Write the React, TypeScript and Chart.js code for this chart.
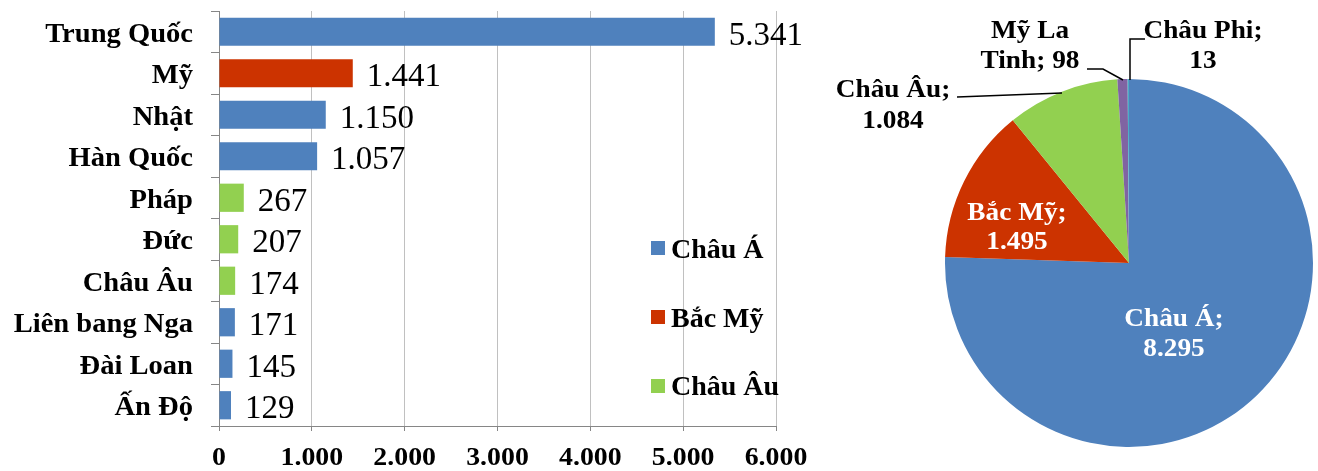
import React, { useEffect, useRef } from "react";
import { Chart, registerables } from "chart.js";

Chart.register(...registerables);

// Bar chart: country values, grouped by region colour
const countries = [
  "Trung Quốc",
  "Mỹ",
  "Nhật",
  "Hàn Quốc",
  "Pháp",
  "Đức",
  "Châu Âu",
  "Liên bang Nga",
  "Đài Loan",
  "Ấn Độ",
];
const countryRegion = [
  "Châu Á",
  "Bắc Mỹ",
  "Châu Á",
  "Châu Á",
  "Châu Âu",
  "Châu Âu",
  "Châu Âu",
  "Châu Á",
  "Châu Á",
  "Châu Á",
];
const countryValues = [5341, 1441, 1150, 1057, 267, 207, 174, 171, 145, 129];
const barRegions = ["Châu Á", "Bắc Mỹ", "Châu Âu"];
const xTickValues = [0, 1000, 2000, 3000, 4000, 5000, 6000];

// Pie chart: totals per region
const pieLabels = ["Châu Á", "Bắc Mỹ", "Châu Âu", "Mỹ La Tinh", "Châu Phi"];
const pieValues = [8295, 1495, 1084, 98, 13];

const regionColors: Record<string, string> = {
  "Châu Á": "#4F81BD",
  "Bắc Mỹ": "#CC3300",
  "Châu Âu": "#92D050",
  "Mỹ La Tinh": "#8064A2",
  "Châu Phi": "#4BACC6",
};

const SERIF = '"Liberation Serif", "Times New Roman", serif';

const fmt = (v: number) => String(v).replace(/\B(?=(\d{3})+(?!\d))/g, ".");

function drawText(
  ctx: CanvasRenderingContext2D,
  text: string,
  x: number,
  y: number,
  font: string,
  color: string,
  align: "left" | "right" | "center",
  sx = 1
) {
  ctx.save();
  ctx.font = font;
  ctx.fillStyle = color;
  ctx.textBaseline = "alphabetic";
  ctx.textAlign = "left";
  const w = ctx.measureText(text).width * sx;
  const left = align === "left" ? x : align === "right" ? x - w : x - w / 2;
  ctx.translate(left, y);
  ctx.scale(sx, 1);
  ctx.fillText(text, 0, 0);
  ctx.restore();
}

// Labels, value captions and the in-plot legend for the bar chart
const barDecorations = {
  id: "barDecorations",
  afterDraw(chart: any) {
    const ctx: CanvasRenderingContext2D = chart.ctx;
    const area = chart.chartArea;
    const xs = chart.scales.x;
    const ys = chart.scales.y;

    countries.forEach((name, i) => {
      const y = ys.getPixelForValue(i);
      drawText(ctx, name, area.left - 26, y + 10, `bold 28px ${SERIF}`, "#000", "right", 1.02);
    });

    xTickValues.forEach((v) => {
      const x = xs.getPixelForValue(v);
      drawText(ctx, fmt(v), x, area.bottom + 39, `bold 26px ${SERIF}`, "#000", "center", 1.07);
    });

    chart.data.datasets.forEach((ds: any, di: number) => {
      const meta = chart.getDatasetMeta(di);
      meta.data.forEach((bar: any, i: number) => {
        const v = ds.data[i];
        if (v == null) return;
        drawText(ctx, fmt(v), bar.x + 14, bar.y + 13, `33px ${SERIF}`, "#000", "left", 1);
      });
    });

    barRegions.forEach((r, k) => {
      const bx = area.left + 432;
      const by = 241 + k * 69;
      ctx.save();
      ctx.fillStyle = regionColors[r];
      ctx.fillRect(bx, by, 14, 14);
      ctx.restore();
      drawText(ctx, r, bx + 20, 258 + k * 68.5, `bold 28px ${SERIF}`, "#000", "left", 1);
    });
  },
};

// Slice captions and leader lines for the pie, placed relative to its centre
const pieCaptionLayout = [
  { dx: 45, dy: [63, 93], color: "#fff", words: 2, leader: null as number[][] | null },
  { dx: -112, dy: [-43, -14], color: "#fff", words: 2, leader: null },
  { dx: -236, dy: [-166, -135], color: "#000", words: 2, leader: [[-172, -166], [-67, -170]] },
  { dx: -99, dy: [-225, -195], color: "#000", words: 2, leader: [[-42, -194], [-26, -194], [-6, -183]] },
  { dx: 74, dy: [-225, -195], color: "#000", words: 2, leader: [[16, -224], [1, -224], [1, -183]] },
];

const pieDecorations = {
  id: "pieDecorations",
  afterDraw(chart: any) {
    const ctx: CanvasRenderingContext2D = chart.ctx;
    const arc = chart.getDatasetMeta(0).data[0];
    const cx = arc.x;
    const cy = arc.y;
    pieLabels.forEach((label, i) => {
      const lay = pieCaptionLayout[i];
      const words = `${label}; ${fmt(pieValues[i])}`.split(" ");
      const lines = [words.slice(0, lay.words).join(" "), words.slice(lay.words).join(" ")];
      lines.forEach((line, li) => {
        drawText(ctx, line, cx + lay.dx, cy + lay.dy[li], `bold 26px ${SERIF}`, lay.color, "center", 1.05);
      });
      if (lay.leader) {
        ctx.save();
        ctx.strokeStyle = "#000";
        ctx.lineWidth = 1.5;
        ctx.beginPath();
        lay.leader.forEach(([px, py], pi) => {
          if (pi === 0) ctx.moveTo(cx + px, cy + py);
          else ctx.lineTo(cx + px, cy + py);
        });
        ctx.stroke();
        ctx.restore();
      }
    });
  },
};

export default function App() {
  const barRef = useRef<HTMLCanvasElement>(null);
  const pieRef = useRef<HTMLCanvasElement>(null);

  useEffect(() => {
    const datasets = barRegions.map((r) => ({
      label: r,
      data: countryValues.map((v, i) => (countryRegion[i] === r ? v : null)),
      backgroundColor: regionColors[r],
      borderWidth: 0,
      barPercentage: 0.68,
      categoryPercentage: 1,
    }));

    const bar = new Chart(barRef.current!, {
      type: "bar",
      data: { labels: countries, datasets },
      plugins: [barDecorations],
      options: {
        responsive: false,
        animation: false,
        indexAxis: "y",
        layout: { padding: { left: 0, top: 11, right: 44, bottom: 0 } },
        plugins: { legend: { display: false }, tooltip: { enabled: false } },
        scales: {
          x: {
            type: "linear",
            min: 0,
            max: 6000,
            stacked: true,
            ticks: { display: false, stepSize: 1000 },
            grid: { color: "#C0C0C0", lineWidth: 1, drawTicks: true, tickLength: 5, tickColor: "#868686" },
            border: { color: "#868686", width: 1 },
            afterFit: (s: any) => {
              s.height = 45;
            },
          },
          y: {
            type: "category",
            stacked: true,
            ticks: { display: false },
            grid: { drawOnChartArea: false, drawTicks: true, tickLength: 8, color: "#868686", offset: true },
            border: { color: "#868686", width: 1 },
            afterFit: (s: any) => {
              s.width = 219;
            },
          },
        },
      } as any,
    });

    const pie = new Chart(pieRef.current!, {
      type: "pie",
      data: {
        labels: pieLabels,
        datasets: [
          {
            data: pieValues,
            backgroundColor: pieLabels.map((l) => regionColors[l]),
            borderWidth: 0,
          },
        ],
      },
      plugins: [pieDecorations],
      options: {
        responsive: false,
        animation: false,
        layout: { padding: { left: 125, right: 5, top: 79, bottom: 24 } },
        plugins: { legend: { display: false }, tooltip: { enabled: false } },
      } as any,
    });

    return () => {
      bar.destroy();
      pie.destroy();
    };
  }, []);

  return (
    <div style={{ position: "absolute", left: 0, top: 0, width: 1318, height: 471, background: "#fff" }}>
      <canvas ref={barRef} width={820} height={471} style={{ position: "absolute", left: 0, top: 0 }} />
      <canvas ref={pieRef} width={498} height={471} style={{ position: "absolute", left: 820, top: 0 }} />
    </div>
  );
}
